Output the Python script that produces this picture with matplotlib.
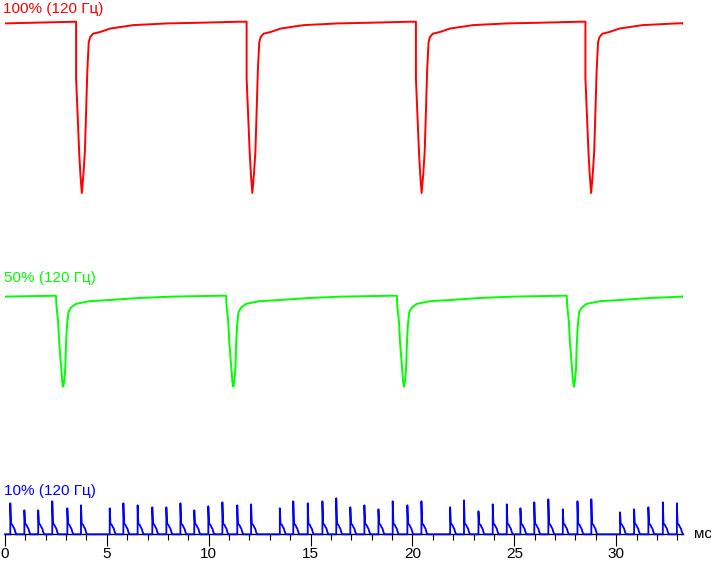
import numpy as np
import matplotlib.pyplot as plt

plt.rcParams['font.family'] = ['Liberation Sans', 'DejaVu Sans']

# time axis (ms)
t_end = 33.28

# 100% brightness: moments of the dips (ms) and the shape of one dip (% of the flat level)
red_dips = [3.77, 12.14, 20.45, 28.77]
red_dt = [-0.28, -0.28, -0.20, -0.13, -0.07, 0.0, 0.08, 0.15, 0.21, 0.27, 0.34, 0.41,
          0.55, 0.90, 1.39, 2.52, 4.19, 5.81, 7.76]
red_lvl = [100, 67, 44, 24, 11, 0, 11, 24, 47, 71, 88, 91, 93, 94, 96, 98, 99, 99.4, 100]

# 50% brightness
green_dips = [2.86, 11.21, 19.59, 27.93]
green_dt = [-0.36, -0.33, -0.25, -0.20, -0.13, -0.08, -0.05, 0.0, 0.05, 0.10, 0.13, 0.18,
            0.25, 0.38, 0.62, 1.28, 2.10, 3.73, 5.35, 7.81]
green_lvl = [100, 88, 71, 49, 29, 15, 5.5, 0, 7.4, 20.5, 44, 66, 82, 87, 91, 94, 95, 97.5, 99, 100]

# 10% brightness: PWM pulses (start ms, peak height)
blue_times = [0.26, 0.95, 1.63, 2.32, 3.06, 3.73, 5.14, 5.81, 6.51, 7.23, 7.92,
              8.61, 9.29, 9.98, 10.67, 11.40, 12.08, 13.49, 14.15, 14.86, 15.58, 16.26,
              16.95, 17.64, 18.33, 19.03, 19.75, 20.44, 21.85, 22.53, 23.24, 23.94, 24.63,
              25.30, 25.98, 26.67, 27.38, 28.10, 28.78, 30.19, 30.88, 31.58, 32.29, 32.98]
blue_peaks = [31, 24, 24, 33, 26, 29, 26, 31, 29, 27, 27,
              31, 24, 28, 32, 29, 30, 26, 33, 31, 33, 36,
              27, 29, 25, 33, 29, 33, 27, 34, 23, 30, 30,
              26, 32, 35, 25, 33, 35, 22, 25, 27, 32, 31]
pulse_dt = [0.0, 0.0, 0.035, 0.10, 0.15, 0.20, 0.245, 0.295]
pulse_tail = [10.7, 9.5, 7.3, 5.7, 2.3, 0]


def dip_trace(dips, dt, lvl, start, end):
    t = [0.0]
    v = [start]
    for d in dips:
        t += [d + x for x in dt]
        v += list(lvl)
    t.append(t_end)
    v.append(end)
    return np.array(t), np.array(v)


rt, rv = dip_trace(red_dips, red_dt, red_lvl, 99, 99)
gt, gv = dip_trace(green_dips, green_dt, green_lvl, 99, 99)

bt = [0.0]
bv = [0.0]
for s, h in zip(blue_times, blue_peaks):
    bt += [s + x for x in pulse_dt]
    bv += [0, h] + pulse_tail
bt.append(t_end)
bv.append(0)

fig = plt.figure(figsize=(7.11, 5.62), dpi=100)
ax = fig.add_axes([5 / 711, (562 - 534.3) / 562, 678 / 711, 534.3 / 562])
ax.set_xlim(0, t_end)
ax.set_ylim(0, 534.3)

ax.plot(rt, 341.3 + 1.713 * rv, color='#ff0000', lw=1.4)
ax.plot(gt, 147.6 + 0.91 * gv, color='#00ff00', lw=1.4)
ax.plot(bt, bv, color='#0000ff', lw=1.3, clip_on=False, zorder=5)

for s in ['left', 'right', 'top']:
    ax.spines[s].set_visible(False)
ax.spines['bottom'].set_linewidth(1.0)
ax.set_yticks([])
ax.set_xticks(range(0, 31, 5))
ax.set_xticks(range(0, 34), minor=True)
ax.tick_params(axis='x', which='major', direction='out', length=8.5, width=0.8,
               labelsize=11, pad=1)
ax.tick_params(axis='x', which='minor', direction='out', length=4.5, width=0.8)

fig.text(3 / 711, 1 - 12.5 / 562, '100% (120 Гц)', color='#ff0000', fontsize=11, va='baseline')
fig.text(4 / 711, 1 - 282 / 562, '50% (120 Гц)', color='#00ff00', fontsize=11, va='baseline')
fig.text(4 / 711, 1 - 495 / 562, '10% (120 Гц)', color='#0000ff', fontsize=11, va='baseline')
fig.text(694 / 711, 1 - 534 / 562, 'мс', color='black', fontsize=11, va='center')

fig.savefig('out.png', dpi=100)
